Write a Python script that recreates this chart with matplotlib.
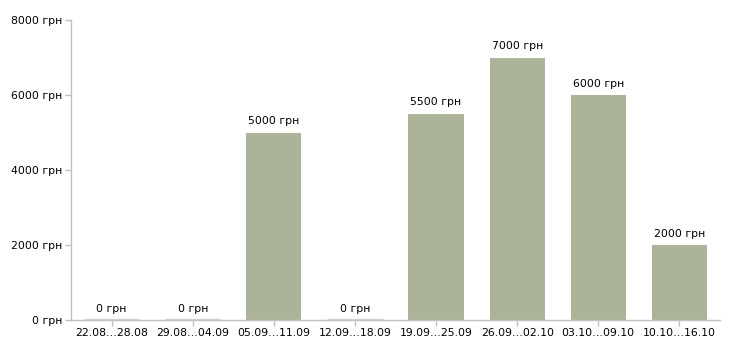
import matplotlib.pyplot as plt
import numpy as np

# data
weeks = ["22.08...28.08", "29.08...04.09", "05.09...11.09", "12.09...18.09",
         "19.09...25.09", "26.09...02.10", "03.10...09.10", "10.10...16.10"]
weeks = [w.replace("...", "\u2026") for w in weeks]
salary = [0, 0, 5000, 0, 5500, 7000, 6000, 2000]
yticks = [0, 2000, 4000, 6000, 8000]

bar_color = "#abb398"
axis_color = "#c0c0c0"
fs = 7.8

fig = plt.figure(figsize=(7.3, 3.4), dpi=100)
ax = fig.add_axes([71 / 730, 20 / 340, (720 - 71) / 730, 300 / 340])

x = np.arange(len(weeks))
ax.bar(x, salary, width=0.68, color=bar_color, zorder=2)

# zero values shown as a thin light strip
for xi, v in zip(x, salary):
    if v == 0:
        ax.hlines(0, xi - 0.34, xi + 0.34, color="#d6d8cc", linewidth=2.5, zorder=2)
    ax.text(xi, v + 170, f"{v} грн", ha="center", va="bottom", fontsize=fs, color="#000000")

ax.set_xlim(-0.5, len(weeks) - 0.5)
ax.set_ylim(0, 8000)
ax.set_yticks(yticks)
ax.set_yticklabels([f"{t} грн" for t in yticks])
ax.set_xticks(x)
ax.set_xticklabels(weeks)

for s in ["top", "right"]:
    ax.spines[s].set_visible(False)
for s in ["left", "bottom"]:
    ax.spines[s].set_color(axis_color)
    ax.spines[s].set_linewidth(1)
ax.tick_params(colors=axis_color, labelcolor="#000000", labelsize=fs, length=4, width=1, pad=2)

fig.savefig("out.png", dpi=100)
